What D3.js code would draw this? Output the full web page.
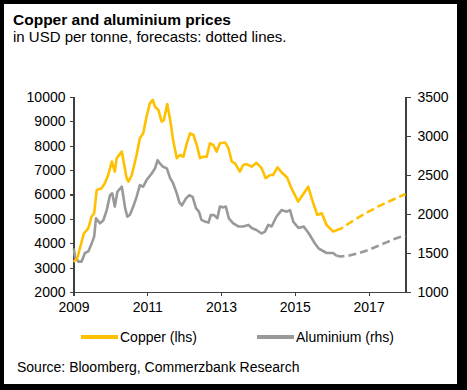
<!DOCTYPE html>
<html lang="en">
  <head>
    <meta charset="UTF-8" />
    <title>Copper and aluminium prices</title>
    <style>
      body { margin: 0; background: #000; }
      svg { display: block; }
      text { font-family: "Liberation Sans", Arial, sans-serif; fill: #000; }
      .axis path, .axis line { stroke: #404040; stroke-width: 1.2; shape-rendering: crispEdges; }
      .axis text { font-size: 14px; font-family: "Liberation Sans", Arial, sans-serif; fill: #000; }
    </style>
  </head>
  <body>
    <div id="app"></div>
    <script src="https://cdn.jsdelivr.net/npm/d3@7/dist/d3.min.js"></script>
    <script>
      // copper, USD/t (left axis)
      const copperYears = [2009.00, 2009.10, 2009.28, 2009.40, 2009.49, 2009.56, 2009.63, 2009.76, 2009.85, 2009.94,
        2010.04, 2010.12, 2010.17, 2010.31, 2010.44, 2010.49, 2010.58, 2010.71, 2010.80, 2010.89, 2010.98,
        2011.07, 2011.15, 2011.21, 2011.30, 2011.39, 2011.45, 2011.54, 2011.62, 2011.70, 2011.80, 2011.89, 2011.98,
        2012.07, 2012.16, 2012.25, 2012.34, 2012.43, 2012.52, 2012.61, 2012.70, 2012.79, 2012.88, 2012.97,
        2013.11, 2013.20, 2013.29, 2013.38, 2013.51, 2013.60, 2013.69, 2013.83, 2013.96,
        2014.10, 2014.21, 2014.33, 2014.41, 2014.53, 2014.66, 2014.79, 2014.91,
        2015.09, 2015.18, 2015.36, 2015.50, 2015.61, 2015.73, 2015.86, 2016.04, 2016.11];
      const copperValues = [3240, 3380, 4400, 4610, 5090, 5230, 6190, 6250, 6460, 6800,
        7350, 6940, 7490, 7760, 6670, 6530, 6800, 7620, 8310, 8510, 9190,
        9740, 9880, 9600, 9470, 8990, 9060, 9710, 9060, 8240, 7490, 7620, 7550,
        8100, 8510, 8440, 8030, 7490, 7550, 7550, 8100, 8030, 7760, 8100,
        8130, 7900, 7350, 7280, 6940, 7210, 7250, 7140, 7300,
        7080, 6670, 6800, 6800, 7115, 6880, 6700, 6250,
        5710, 5910, 6320, 5640, 5160, 5230, 4750, 4480, 4520];
      const copperFcYears = [2016.11, 2016.25, 2016.5, 2016.75, 2017.0, 2017.25, 2017.5, 2017.75, 2018.0];
      const copperFcValues = [4520, 4600, 4850, 5080, 5300, 5500, 5680, 5850, 6020];

      // aluminium, USD/t (right axis)
      const alumYears = [2009.01, 2009.04, 2009.13, 2009.22, 2009.31, 2009.40, 2009.49, 2009.56, 2009.61, 2009.72,
        2009.81, 2009.90, 2009.99, 2010.05, 2010.12, 2010.19, 2010.31, 2010.40, 2010.46, 2010.53, 2010.62,
        2010.71, 2010.80, 2010.89, 2010.98, 2011.12, 2011.21, 2011.28, 2011.34, 2011.43, 2011.53, 2011.62,
        2011.70, 2011.80, 2011.87, 2011.94, 2012.05, 2012.14, 2012.23, 2012.32, 2012.40, 2012.47, 2012.58,
        2012.66, 2012.72, 2012.81, 2012.90, 2012.97, 2013.06, 2013.13, 2013.21, 2013.33, 2013.47, 2013.60,
        2013.74, 2013.83, 2013.96, 2014.10, 2014.19, 2014.28, 2014.37, 2014.50, 2014.64, 2014.78, 2014.87,
        2014.96, 2015.10, 2015.24, 2015.38, 2015.54, 2015.64, 2015.86, 2016.04, 2016.13];
      const alumValues = [1560, 1450, 1390, 1390, 1500, 1520, 1620, 1710, 1945, 1880,
        1920, 2050, 2240, 2265, 2095, 2285, 2350, 2075, 1965, 1990, 2095,
        2220, 2370, 2350, 2435, 2520, 2585, 2690, 2650, 2605, 2585, 2460,
        2395, 2265, 2150, 2110, 2200, 2240, 2220, 2075, 2030, 1925, 1900,
        1890, 1985, 1985, 1945, 2095, 2085, 2095, 1945, 1880, 1840, 1840,
        1860, 1820, 1795, 1750, 1775, 1860, 1840, 1965, 2050, 2030, 2050,
        1900, 1820, 1840, 1750, 1625, 1560, 1500, 1500, 1465];
      const alumFcYears = [2016.13, 2016.25, 2016.5, 2016.75, 2017.0, 2017.25, 2017.5, 2017.75, 2018.0];
      const alumFcValues = [1465, 1455, 1470, 1500, 1540, 1590, 1640, 1690, 1725];

      const xTicks = [2009, 2011, 2013, 2015, 2017];
      const leftTicks = [2000, 3000, 4000, 5000, 6000, 7000, 8000, 9000, 10000];
      const rightTicks = [1000, 1500, 2000, 2500, 3000, 3500];

      const width = 467;
      const height = 390;
      const copperColor = "#ffc000";
      const alumColor = "#999999";

      const svg = d3.select("#app").append("svg")
        .attr("width", width)
        .attr("height", height);

      // black frame around a white card
      svg.append("rect").attr("width", width).attr("height", height).attr("fill", "#000");
      svg.append("rect").attr("x", 4).attr("y", 4).attr("width", 453).attr("height", 380).attr("fill", "#fff");

      const x = d3.scaleLinear().domain([2009, 2018]).range([73.5, 405.5]);
      const yL = d3.scaleLinear().domain([2000, 10000]).range([292, 97]);
      const yR = d3.scaleLinear().domain([1000, 3500]).range([292, 97]);

      svg.append("text").attr("x", 13).attr("y", 25)
        .style("font-size", "15.5px").style("font-weight", "bold")
        .text("Copper and aluminium prices");
      svg.append("text").attr("x", 13).attr("y", 42)
        .style("font-size", "15px")
        .text("in USD per tonne, forecasts: dotted lines.");

      svg.append("g").attr("class", "axis")
        .attr("transform", "translate(73.5,0)")
        .call(d3.axisLeft(yL).tickValues(leftTicks).tickFormat(d3.format("d"))
          .tickSize(4).tickSizeOuter(4).tickPadding(4));

      svg.append("g").attr("class", "axis")
        .attr("transform", "translate(405.5,0)")
        .call(d3.axisRight(yR).tickValues(rightTicks).tickFormat(d3.format("d"))
          .tickSize(5).tickSizeOuter(5).tickPadding(7));

      svg.append("g").attr("class", "axis")
        .attr("transform", "translate(0,292)")
        .call(d3.axisBottom(x).tickValues(xTicks).tickFormat(d3.format("d"))
          .tickSize(4).tickSizeOuter(0).tickPadding(6));

      const lineL = d3.line().x(d => x(d[0])).y(d => yL(d[1]));
      const lineR = d3.line().x(d => x(d[0])).y(d => yR(d[1]));

      function drawLine(years, values, gen, color, dashed) {
        svg.append("path")
          .datum(d3.zip(years, values))
          .attr("fill", "none")
          .attr("stroke", color)
          .attr("stroke-width", 2.6)
          .attr("stroke-linejoin", "round")
          .attr("stroke-dasharray", dashed ? "8,4" : null)
          .attr("d", gen);
      }

      drawLine(alumYears, alumValues, lineR, alumColor, false);
      drawLine(alumFcYears, alumFcValues, lineR, alumColor, true);
      drawLine(copperYears, copperValues, lineL, copperColor, false);
      drawLine(copperFcYears, copperFcValues, lineL, copperColor, true);

      // legend
      const legend = [
        { name: "Copper (lhs)", color: copperColor, x: 81 },
        { name: "Aluminium (rhs)", color: alumColor, x: 257 }
      ];
      const lg = svg.append("g").selectAll("g").data(legend).enter().append("g");
      lg.append("line")
        .attr("x1", d => d.x).attr("x2", d => d.x + 37)
        .attr("y1", 337).attr("y2", 337)
        .attr("stroke", d => d.color).attr("stroke-width", 4);
      lg.append("text")
        .attr("x", d => d.x + 39).attr("y", 342)
        .style("font-size", "14px")
        .text(d => d.name);

      svg.append("text").attr("x", 17).attr("y", 372)
        .style("font-size", "14px")
        .text("Source: Bloomberg, Commerzbank Research");
    </script>
  </body>
</html>
